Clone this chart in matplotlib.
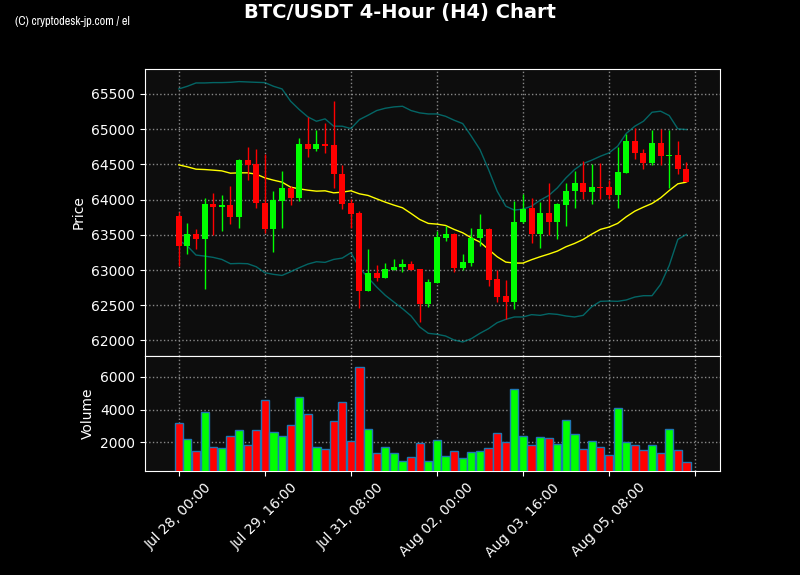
import matplotlib
matplotlib.use("Agg")
import matplotlib.pyplot as plt
from matplotlib import font_manager as fm

opens = [63761, 63340, 63506, 63435, 63931, 63893, 63917, 63751, 64569, 64508,
         63955, 63577, 63978, 64158, 64016, 64796, 64725, 64796, 64782, 64370,
         63945, 63803, 62702, 62962, 62882, 62995, 63038, 63080, 63009, 62513,
         62811, 63449, 63506, 63024, 63099, 63449, 63577, 62868, 62627, 62546,
         63676, 63874, 63506, 63803, 63680, 63922, 64120, 64229, 64106, 64186,
         64172, 64063, 64375, 64838, 64663, 64517, 64810, 64616, 64640, 64441]
closes = [63340, 63506, 63435, 63931, 63893, 63917, 63751, 64569, 64498, 63950,
          63577, 63988, 64158, 64016, 64796, 64725, 64796, 64767, 64361, 63931,
          63789, 62702, 62962, 62882, 63009, 63047, 63080, 62995, 62513, 62830,
          63463, 63506, 63024, 63109, 63458, 63577, 62858, 62617, 62546, 63685,
          63870, 63506, 63803, 63680, 63931, 64129, 64229, 64106, 64186, 64163,
          64063, 64385, 64838, 64663, 64517, 64810, 64616, 64640, 64437, 64248]
highs = [63827, 63671, 63586, 64025, 64096, 64068, 64191, 64578, 64749, 64720,
         64654, 64120, 64404, 64191, 64876, 65174, 64985, 65089, 65396, 64493,
         64002, 63836, 63302, 63066, 63104, 63151, 63151, 63123, 63019, 62868,
         63548, 63624, 63529, 63232, 63600, 63799, 63600, 63000, 62858, 63978,
         64082, 64025, 63964, 64238, 63950, 64238, 64413, 64555, 64508, 64522,
         64285, 64749, 64938, 65018, 64720, 64985, 65008, 64994, 64838, 64536]
lows = [63057, 63222, 63293, 62735, 63496, 63553, 63657, 63600, 64285, 63884,
        63529, 63260, 63600, 63917, 63978, 64607, 64687, 64663, 64167, 63870,
        63600, 62466, 62702, 62844, 62882, 62995, 62972, 62995, 62263, 62480,
        62811, 63411, 62976, 63000, 63057, 63340, 62773, 62546, 62300, 62442,
        63662, 63387, 63317, 63496, 63444, 63624, 63884, 64002, 63940, 64002,
        64011, 63884, 64375, 64578, 64441, 64493, 64498, 64167, 64366, 64248]
volumes = [3151, 2182, 1455, 3879, 1697, 1636, 2364, 2727, 1818, 2727,
           4606, 2606, 2364, 3030, 4788, 3757, 1697, 1576, 3273, 4485,
           2061, 6606, 2788, 1333, 1697, 1333, 849, 1091, 1939, 849,
           2121, 1152, 1455, 1030, 1394, 1455, 1636, 2545, 2000, 5273,
           2364, 1818, 2303, 2242, 1879, 3394, 2485, 1576, 2061, 1697,
           1212, 4121, 2000, 1818, 1515, 1818, 1333, 2788, 1515, 788]
bb_upper = [65571, 65609, 65656, 65656, 65661, 65661, 65665, 65675, 65670, 65665,
            65661, 65609, 65571, 65396, 65278, 65174, 65112, 65146, 65042, 65042,
            65008, 65136, 65198, 65264, 65297, 65316, 65325, 65264, 65231, 65216,
            65216, 65183, 65127, 65079, 64900, 64711, 64427, 64120, 63907, 63851,
            63865, 63907, 63992, 64059, 64167, 64309, 64427, 64512, 64560, 64616,
            64663, 64758, 64938, 65042, 65112, 65240, 65255, 65193, 65004, 64994]
bb_mid = [64493, 64465, 64432, 64427, 64418, 64408, 64375, 64380, 64380, 64361,
          64309, 64276, 64248, 64177, 64153, 64134, 64120, 64125, 64096, 64106,
          64125, 64082, 64059, 64011, 63964, 63922, 63884, 63803, 63718, 63662,
          63652, 63633, 63577, 63529, 63458, 63397, 63293, 63189, 63113, 63099,
          63099, 63147, 63189, 63227, 63269, 63331, 63378, 63435, 63510, 63577,
          63610, 63662, 63756, 63836, 63893, 63945, 64025, 64129, 64224, 64248]
bb_lower = [63425, 63340, 63213, 63198, 63180, 63151, 63090, 63094, 63090, 63047,
            62962, 62939, 62924, 62976, 63033, 63085, 63118, 63109, 63151, 63170,
            63246, 63033, 62891, 62759, 62641, 62546, 62452, 62348, 62192, 62102,
            62088, 62064, 62007, 61979, 62026, 62102, 62168, 62253, 62300, 62334,
            62334, 62367, 62357, 62381, 62371, 62348, 62334, 62357, 62480, 62556,
            62560, 62556, 62575, 62617, 62636, 62636, 62797, 63066, 63435, 63506]
tick_positions = [0, 10, 20, 30, 40, 50, 60]
tick_labels = ["Jul 28, 00:00", "Jul 29, 16:00", "Jul 31, 08:00",
               "Aug 02, 00:00", "Aug 03, 16:00", "Aug 05, 08:00", ""]

UP = "#00ff00"
DOWN = "#ff0000"
BG = "#0d0d0d"

fig = plt.figure(figsize=(8, 5.75), dpi=100, facecolor="black")
ax = fig.add_axes([0.181, 0.381, 0.719, 0.499], facecolor=BG)
axv = fig.add_axes([0.181, 0.181, 0.719, 0.2], facecolor=BG, sharex=ax)

xs = list(range(len(opens)))
colors = [UP if c >= o else DOWN for o, c in zip(opens, closes)]

ax.plot(xs, bb_upper, color="#008b8b", lw=1, alpha=0.7, zorder=2)
ax.plot(xs, bb_lower, color="#008b8b", lw=1, alpha=0.7, zorder=2)
ax.plot(xs, bb_mid, color="#ffff00", lw=1, zorder=2)

ax.vlines(xs, lows, highs, colors=colors, lw=1, zorder=3)
bottoms = [min(o, c) for o, c in zip(opens, closes)]
heights = [max(abs(c - o), 8) for o, c in zip(opens, closes)]
ax.bar(xs, heights, bottom=bottoms, width=0.7, color=colors, zorder=4)

axv.bar(xs, volumes, width=0.95, color=colors, edgecolor="#1f77b4", lw=1, zorder=3)

for a in (ax, axv):
    a.grid(True, color="#888888", ls=":", lw=1, zorder=0)
    a.set_axisbelow(True)
    for s in a.spines.values():
        s.set_color("white")
    a.tick_params(colors="white", labelcolor="white", labelsize=10)

ax.set_xlim(-3.95, 62.9)
ax.set_ylim(61781, 65854)
axv.set_ylim(263, 7266)
axv.set_yticks([2000, 4000, 6000])
ax.set_yticks([62000, 62500, 63000, 63500, 64000, 64500, 65000, 65500])
axv.set_xticks(tick_positions)
axv.set_xticklabels(tick_labels, rotation=45, ha="center")
ax.tick_params(labelbottom=False)

ax.set_ylabel("Price", color="white", fontsize=10)
axv.set_ylabel("Volume", color="white", fontsize=10)

fig.suptitle("BTC/USDT 4-Hour (H4) Chart", color="white", fontsize=14,
             fontweight="bold", y=0.995)

narrow = None
for f in fm.fontManager.ttflist:
    if "Narrow" in f.name and f.weight in (400, "normal", "regular") and f.style == "normal":
        narrow = f.fname
        break
if narrow is None:
    for f in fm.fontManager.ttflist:
        if "narrow" in f.fname.lower() and "bold" not in f.fname.lower() and "italic" not in f.fname.lower():
            narrow = f.fname
            break
if narrow:
    fp = fm.FontProperties(fname=narrow, size=8.8)
else:
    fp = fm.FontProperties(family="Liberation Sans", size=7)
fig.text(0.019, 0.962, "(C) cryptodesk-jp.com / el", color="white",
         fontproperties=fp, va="center")

fig.savefig("out.png", dpi=100, facecolor="black")
